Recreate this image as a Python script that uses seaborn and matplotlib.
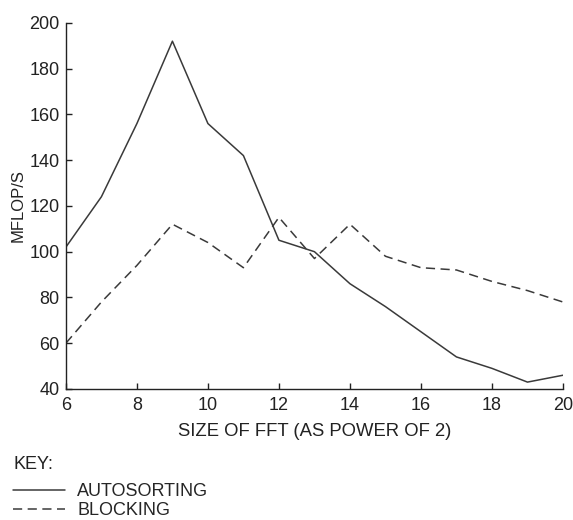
import matplotlib
matplotlib.use("Agg")
import matplotlib.pyplot as plt
import seaborn as sns
import pandas as pd

fft_power = [6, 7, 8, 9, 10, 11, 12, 13, 14, 15, 16, 17, 18, 19, 20]
autosorting = [102, 124, 156, 192, 156, 142, 105, 100, 86, 76, 65, 54, 49, 43, 46]
blocking = [60, 78, 94, 112, 104, 93, 115, 97, 112, 98, 93, 92, 87, 83, 78]
series_names = ["AUTOSORTING", "BLOCKING"]
x_ticks = [6, 8, 10, 12, 14, 16, 18, 20]
y_ticks = [40, 60, 80, 100, 120, 140, 160, 180, 200]

df = pd.DataFrame({
    "x": fft_power * 2,
    "y": autosorting + blocking,
    "series": [series_names[0]] * len(fft_power) + [series_names[1]] * len(fft_power),
})

sns.set_theme(style="ticks")
plt.rcParams["font.family"] = ["Liberation Sans", "DejaVu Sans"]

fig = plt.figure(figsize=(5.73, 5.2), dpi=100)
ax = fig.add_axes([0.115, 0.252, 0.8675, 0.704])

sns.lineplot(data=df, x="x", y="y", style="series", hue="series",
             palette=["#3a3a3a", "#3a3a3a"],
             dashes={series_names[0]: "", series_names[1]: (6, 3.6)},
             linewidth=1.1, ax=ax, legend=True)

ax.set_xlim(6, 20)
ax.set_ylim(40, 200)
ax.set_xticks(x_ticks)
ax.set_yticks(y_ticks)
ax.tick_params(direction="in", length=4.3, width=1, labelsize=13, colors="#222222")
ax.tick_params(axis="y", pad=4.5)
ax.tick_params(axis="x", pad=6)
for s in ["top", "right"]:
    ax.spines[s].set_visible(False)
for s in ["left", "bottom"]:
    ax.spines[s].set_color("#222222")
    ax.spines[s].set_linewidth(1.0)
ax.set_xlabel("SIZE OF FFT (AS POWER OF 2)", fontsize=13.3, color="#222222", labelpad=6)
ax.set_ylabel("MFLOP/S", fontsize=12, color="#222222", labelpad=3)

handles, labels = ax.get_legend_handles_labels()
ax.legend(handles, labels, loc="upper left", bbox_to_anchor=(0.0227, 0.071),
          bbox_transform=fig.transFigure, frameon=False, fontsize=13,
          handlelength=2.9, handletextpad=0.65, labelspacing=0.12,
          borderaxespad=0, borderpad=0)
fig.text(0.0227, 0.107, "KEY:", fontsize=13, color="#222222", ha="left", va="center")

fig.savefig("out.png", dpi=100)
